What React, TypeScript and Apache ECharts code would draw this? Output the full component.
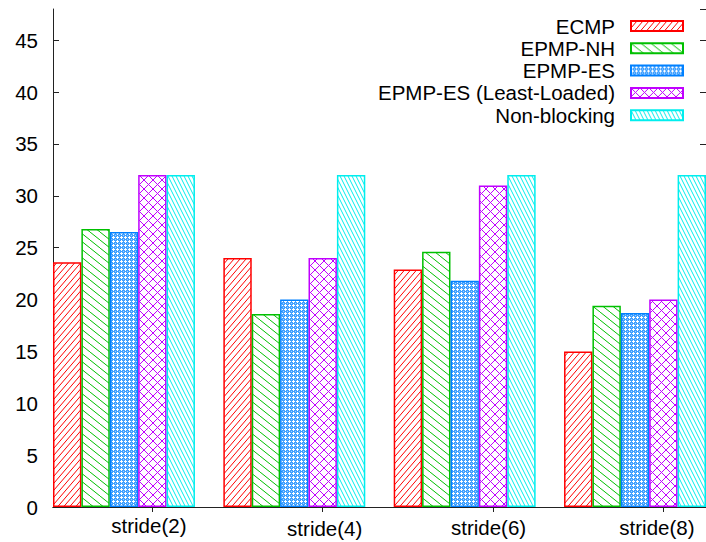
import React, { useEffect, useRef } from "react";
import * as echarts from "echarts";

// ---- data ----
const categories = ["stride(2)", "stride(4)", "stride(6)", "stride(8)"];
const seriesNames = ["ECMP", "EPMP-NH", "EPMP-ES", "EPMP-ES (Least-Loaded)", "Non-blocking"];
const ecmp = [23.6, 24.0, 22.9, 15.0];
const epmpNh = [26.8, 18.6, 24.6, 19.4];
const epmpEs = [26.5, 20.0, 21.8, 18.7];
const epmpEsLeastLoaded = [32.0, 24.0, 31.0, 20.0];
const nonBlocking = [32.0, 32.0, 32.0, 32.0];
const yMin = 0;
const yMax = 48;
const yInterval = 5;

const seriesValues = [ecmp, epmpNh, epmpEs, epmpEsLeastLoaded, nonBlocking];
const seriesColors = ["#ff0000", "#00c000", "#0080ff", "#c000ff", "#00eeee"];

// each cluster: 5 bars + 1 gap slot; the last cluster has no trailing gap
const SLOTS_PER_GROUP = 6;
const BARS_PER_GROUP = 5;
const LABEL_SLOT = 3;
const slotCount = categories.length * SLOTS_PER_GROUP - 1;
const slotLabels = Array.from({ length: slotCount }, (_, k) =>
  k % SLOTS_PER_GROUP === LABEL_SLOT ? categories[(k - LABEL_SLOT) / SLOTS_PER_GROUP] : ""
);
// small per-label nudges (top, right, bottom, left padding) as in the original figure
const labelPads = [
  [0, 7, 0, 0],
  [3, 0, 0, 4],
  [2, 9, 0, 0],
  [2, 13, 0, 0],
];

type Kind = "fwd" | "back" | "cross" | "dense";
const seriesPatterns: { kind: Kind; w: number; h: number }[] = [
  { kind: "fwd", w: 6, h: 7 },
  { kind: "back", w: 10, h: 8 },
  { kind: "dense", w: 4, h: 4 },
  { kind: "cross", w: 9, h: 9 },
  { kind: "back", w: 4, h: 8 },
];

function makePattern(kind: Kind, w: number, h: number, color: string) {
  const c = document.createElement("canvas");
  c.width = w;
  c.height = h;
  const ctx = c.getContext("2d")!;
  ctx.fillStyle = "#ffffff";
  ctx.fillRect(0, 0, w, h);
  if (kind === "dense") {
    ctx.fillStyle = color;
    ctx.globalAlpha = 0.75;
    ctx.fillRect(0, 0, w, h);
    ctx.globalAlpha = 1;
    ctx.fillStyle = "#ffffff";
    ctx.fillRect(1, 0, 1, 3);
    ctx.fillRect(0, 1, 3, 1);
    ctx.globalAlpha = 0.5;
    ctx.fillRect(3, 3, 1, 1);
    ctx.globalAlpha = 1;
  } else {
    ctx.strokeStyle = color;
    ctx.lineWidth = 1;
    ctx.beginPath();
    for (const dx of [-w, 0, w]) {
      if (kind === "fwd" || kind === "cross") {
        ctx.moveTo(dx, h);
        ctx.lineTo(dx + w, 0);
      }
      if (kind === "back" || kind === "cross") {
        ctx.moveTo(dx, 0);
        ctx.lineTo(dx + w, h);
      }
    }
    ctx.stroke();
  }
  return { image: c, repeat: "repeat" as const };
}

const FONT = "Liberation Sans, Arial, sans-serif";
const FS = 20.5;

export default function App() {
  const ref = useRef<HTMLDivElement>(null);
  useEffect(() => {
    document.body.style.margin = "0";
    const chart = echarts.init(ref.current!, null, { renderer: "svg" });
    const series = seriesNames.map((name, j) => {
      const p = seriesPatterns[j];
      const data = Array.from({ length: slotCount }, (_, k) => {
        const g = Math.floor(k / SLOTS_PER_GROUP);
        const s = k % SLOTS_PER_GROUP;
        return s === j && s < BARS_PER_GROUP ? seriesValues[j][g] : "-";
      });
      return {
        name,
        type: "bar",
        data,
        barGap: "-100%",
        barCategoryGap: "0%",
        itemStyle: {
          color: makePattern(p.kind, p.w, p.h, seriesColors[j]),
          borderColor: seriesColors[j],
          borderWidth: 1.5,
        },
      };
    });
    const rich: Record<string, any> = {};
    labelPads.forEach((pad, i) => {
      rich["l" + i] = { fontSize: FS, fontFamily: FONT, color: "#000", padding: pad };
    });
    chart.setOption({
      animation: false,
      backgroundColor: "#ffffff",
      grid: { left: 53, right: -2, top: 9, bottom: 35 },
      legend: {
        orient: "vertical",
        align: "right",
        right: 22,
        top: 15.5,
        padding: 0,
        itemWidth: 52,
        itemHeight: 10,
        itemGap: 1.3,
        icon: "rect",
        data: seriesNames,
        textStyle: {
          fontSize: FS,
          fontFamily: FONT,
          color: "#000",
          padding: [0, 11, 0, 0],
        },
      },
      xAxis: [
        {
          type: "category",
          position: "bottom",
          data: slotLabels,
          boundaryGap: true,
          axisLine: { show: true, lineStyle: { color: "#222", width: 1 } },
          axisTick: { show: false },
          axisLabel: {
            interval: 0,
            fontSize: FS,
            fontFamily: FONT,
            color: "#000",
            margin: 8,
            formatter: (v: string) => {
              const i = categories.indexOf(v);
              return i < 0 ? "" : `{l${i}|${v}}`;
            },
            rich,
          },
          splitLine: { show: false },
        },
        {
          type: "category",
          position: "top",
          data: slotLabels,
          boundaryGap: true,
          axisLine: { show: true, lineStyle: { color: "#222", width: 1 } },
          axisTick: {
            show: true,
            inside: true,
            length: 5,
            alignWithLabel: true,
            interval: (idx: number) => idx % SLOTS_PER_GROUP === LABEL_SLOT,
            lineStyle: { color: "#222" },
          },
          axisLabel: { show: false },
          splitLine: { show: false },
        },
      ],
      yAxis: [
        {
          type: "value",
          position: "left",
          min: yMin,
          max: yMax,
          interval: yInterval,
          axisLine: { show: true, lineStyle: { color: "#222", width: 1 } },
          axisTick: { show: true, inside: true, length: 6, lineStyle: { color: "#222" } },
          axisLabel: {
            fontSize: FS,
            fontFamily: FONT,
            color: "#000",
            margin: 15,
            showMaxLabel: false,
          },
          splitLine: { show: false },
        },
        {
          type: "value",
          position: "right",
          min: yMin,
          max: yMax,
          interval: yInterval,
          axisLine: { show: true, lineStyle: { color: "#222", width: 1 } },
          axisTick: { show: true, inside: true, length: 6, lineStyle: { color: "#222" } },
          axisLabel: { show: false },
          splitLine: { show: false },
        },
      ],
      series,
    });
    return () => chart.dispose();
  }, []);
  return <div ref={ref} style={{ width: 706, height: 542 }} />;
}
